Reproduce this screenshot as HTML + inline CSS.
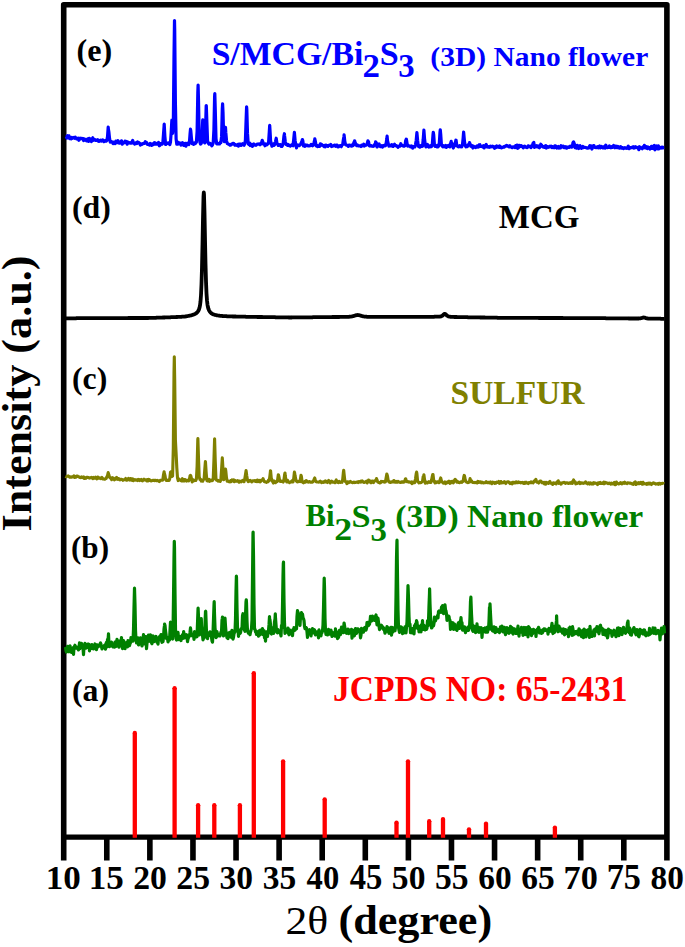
<!DOCTYPE html>
<html><head><meta charset="utf-8"><title>XRD</title>
<style>html,body{margin:0;padding:0;background:#fff;width:685px;height:947px;overflow:hidden}</style>
</head><body>
<svg width="685" height="947" viewBox="0 0 685 947" style="display:block;font-family:'Liberation Serif',serif"><rect width="685" height="947" fill="#fff"/>
<path d="M63.7,860.4 V4.8 H666.9 V860.4" fill="none" stroke="#000" stroke-width="5.6" stroke-linejoin="round"/>
<path d="M63.7,837.1 H666.9" fill="none" stroke="#000" stroke-width="5.3"/>
<path d="M106.79,837 V860.4 M149.87,837 V860.4 M192.96,837 V860.4 M236.04,837 V860.4 M279.12,837 V860.4 M322.21,837 V860.4 M365.30,837 V860.4 M408.38,837 V860.4 M451.47,837 V860.4 M494.55,837 V860.4 M537.64,837 V860.4 M580.72,837 V860.4 M623.81,837 V860.4 " fill="none" stroke="#000" stroke-width="5.6"/>
<polyline points="65.5,647.0 66.0,650.7 66.5,652.1 67.0,648.4 67.5,646.3 68.0,649.2 68.5,650.4 69.0,651.8 69.5,646.2 70.0,645.9 70.5,650.6 71.0,649.9 71.5,652.4 72.0,651.0 72.5,648.2 73.0,647.7 73.5,654.5 74.0,647.5 74.5,646.2 75.0,645.3 75.5,648.1 76.0,648.1 76.5,646.9 77.0,647.4 77.5,648.1 78.0,649.1 78.5,649.9 79.0,647.7 79.5,642.8 80.0,648.7 80.5,643.5 81.0,646.5 81.5,643.3 82.0,646.8 82.5,644.9 83.0,647.3 83.5,654.7 84.0,646.6 84.5,648.7 85.0,643.4 85.5,645.9 86.0,648.1 86.5,646.3 87.0,647.4 87.5,646.7 88.0,644.0 88.5,647.7 89.0,644.4 89.5,650.8 90.0,645.0 90.5,647.8 91.0,646.2 91.5,648.4 92.0,644.6 92.5,648.4 93.0,645.7 93.5,649.0 94.0,647.4 94.5,646.2 95.0,644.0 95.5,647.7 96.0,646.9 96.5,649.7 97.0,644.8 97.5,647.0 98.0,646.9 98.5,646.3 99.0,646.1 99.5,646.0 100.0,644.0 100.5,643.0 101.0,644.4 101.5,646.7 102.0,648.9 102.5,647.6 103.0,647.7 103.5,647.0 104.0,646.7 104.5,645.4 105.0,646.8 105.5,649.1 106.0,643.8 106.5,642.3 107.0,646.9 107.5,639.6 108.0,638.7 108.2,638.1 108.5,633.9 109.0,645.4 109.5,646.6 110.0,644.2 110.5,646.0 111.0,644.5 111.5,642.1 112.0,643.9 112.5,645.0 113.0,646.8 113.5,645.7 114.0,644.1 114.5,647.2 115.0,642.1 115.5,645.7 116.0,646.5 116.5,643.0 117.0,639.4 117.5,641.5 118.0,644.2 118.5,644.8 119.0,647.2 119.5,641.0 120.0,643.4 120.5,644.9 121.0,642.9 121.5,637.5 122.0,645.1 122.5,648.6 123.0,645.4 123.5,640.7 124.0,641.9 124.5,643.4 125.0,648.7 125.5,644.2 126.0,642.9 126.5,646.3 127.0,642.3 127.5,646.9 128.0,640.7 128.5,641.2 129.0,644.0 129.5,645.6 130.0,643.6 130.5,642.7 131.0,637.5 131.5,640.0 132.0,640.1 132.5,640.0 133.0,641.0 133.5,629.5 134.0,607.8 134.5,588.2 135.0,604.9 135.5,630.3 136.0,640.3 136.5,642.9 137.0,639.8 137.5,640.5 138.0,637.8 138.5,644.9 139.0,644.5 139.5,640.5 140.0,639.8 140.5,637.9 141.0,641.2 141.5,641.3 142.0,646.0 142.5,641.3 143.0,638.8 143.5,634.7 144.0,643.9 144.5,641.0 145.0,636.6 145.5,640.8 146.0,636.5 146.5,648.7 147.0,643.0 147.5,641.6 148.0,639.7 148.5,635.0 149.0,639.8 149.5,636.3 150.0,641.4 150.5,634.8 151.0,637.7 151.5,642.7 152.0,643.7 152.5,636.9 153.0,636.0 153.5,641.7 154.0,641.6 154.5,637.1 155.0,637.8 155.5,637.7 156.0,636.5 156.5,637.7 157.0,642.3 157.5,640.9 158.0,644.1 158.5,638.9 159.0,638.7 159.5,636.6 160.0,638.6 160.5,635.8 161.0,634.6 161.5,640.5 162.0,642.3 162.5,640.7 163.0,641.6 163.5,637.3 164.0,629.3 164.5,625.4 164.6,624.1 165.0,625.5 165.5,630.8 166.0,634.3 166.5,638.5 167.0,638.9 167.5,637.4 168.0,641.9 168.5,638.8 169.0,639.6 169.5,640.0 170.0,630.8 170.5,622.1 170.7,627.8 171.0,626.0 171.5,636.7 172.0,637.6 172.5,639.1 173.0,632.5 173.5,598.6 174.0,557.8 174.3,541.4 174.5,547.3 175.0,593.5 175.5,629.3 176.0,638.4 176.5,640.0 177.0,633.8 177.5,636.5 178.0,632.3 178.5,637.8 179.0,639.5 179.5,636.3 180.0,638.7 180.5,638.6 181.0,640.5 181.5,636.0 182.0,635.7 182.5,634.8 183.0,638.4 183.5,634.7 183.6,631.7 184.0,633.6 184.5,636.0 185.0,637.8 185.5,637.2 186.0,637.0 186.5,634.7 187.0,636.2 187.5,641.6 188.0,638.9 188.5,637.7 189.0,636.5 189.5,635.4 190.0,632.5 190.5,627.9 191.0,632.1 191.5,635.7 192.0,635.0 192.5,635.4 193.0,634.9 193.5,634.7 194.0,639.4 194.5,631.5 195.0,636.5 195.5,635.6 196.0,635.5 196.5,636.9 197.0,636.8 197.5,623.5 198.0,609.7 198.1,608.0 198.5,616.6 199.0,633.0 199.5,634.9 200.0,633.1 200.5,629.3 201.0,621.8 201.3,618.7 201.5,625.8 202.0,631.8 202.5,635.0 203.0,639.9 203.5,634.8 204.0,638.1 204.5,636.7 205.0,623.8 205.5,611.5 205.7,611.3 206.0,619.4 206.5,632.7 207.0,632.3 207.5,638.7 208.0,635.3 208.5,635.3 209.0,634.9 209.5,635.4 210.0,631.8 210.5,633.7 211.0,633.1 211.5,637.2 212.0,640.9 212.5,642.2 213.0,632.8 213.5,619.3 214.0,605.5 214.2,601.7 214.5,614.0 215.0,627.8 215.5,632.5 216.0,637.7 216.5,636.9 217.0,631.7 217.5,634.4 218.0,635.1 218.5,635.6 219.0,635.9 219.5,634.7 220.0,635.9 220.5,633.9 221.0,632.0 221.5,632.3 222.0,620.2 222.2,619.1 222.5,617.0 223.0,629.7 223.5,636.0 224.0,629.5 224.5,627.9 225.0,618.1 225.5,626.2 226.0,632.3 226.5,635.2 227.0,637.8 227.5,634.0 228.0,638.7 228.5,633.1 229.0,632.7 229.5,636.6 230.0,632.3 230.5,633.9 231.0,637.0 231.5,637.6 232.0,630.4 232.5,635.8 233.0,639.1 233.5,637.3 234.0,633.7 234.5,632.6 235.0,631.8 235.5,619.0 236.0,591.5 236.4,576.1 236.5,577.3 237.0,608.3 237.5,627.4 238.0,629.7 238.5,636.3 239.0,631.3 239.5,632.8 240.0,633.5 240.5,632.6 241.0,629.8 241.5,628.4 242.0,628.6 242.5,615.6 243.0,613.7 243.5,619.6 244.0,624.9 244.5,630.2 245.0,631.3 245.5,616.0 246.0,602.0 246.3,599.8 246.5,602.9 247.0,621.0 247.5,630.8 248.0,632.2 248.5,633.2 249.0,632.7 249.5,633.7 250.0,634.6 250.5,632.0 251.0,630.5 251.5,628.3 252.0,619.8 252.5,578.4 253.0,534.1 253.1,532.1 253.5,555.7 254.0,604.1 254.5,628.9 255.0,629.3 255.5,632.0 256.0,630.9 256.5,634.5 257.0,631.5 257.5,632.6 258.0,633.8 258.5,636.1 259.0,631.0 259.5,630.6 260.0,634.8 260.5,630.2 261.0,633.9 261.5,631.5 262.0,632.6 262.5,628.5 263.0,634.6 263.5,631.6 264.0,630.7 264.5,637.8 265.0,634.5 265.5,641.2 266.0,633.8 266.5,631.9 267.0,633.0 267.5,636.5 268.0,631.9 268.5,630.5 269.0,624.9 269.5,616.5 269.6,618.8 270.0,619.9 270.5,624.4 271.0,633.4 271.5,634.0 272.0,632.7 272.5,630.4 273.0,627.7 273.5,633.4 274.0,630.4 274.5,621.7 275.0,619.0 275.3,613.8 275.5,618.2 276.0,624.7 276.5,630.8 277.0,632.5 277.5,632.8 278.0,629.7 278.5,631.6 279.0,631.2 279.5,631.9 280.0,633.0 280.5,633.7 281.0,636.0 281.5,625.3 282.0,627.8 282.5,606.2 283.0,576.7 283.3,563.7 283.5,562.1 284.0,600.9 284.5,623.2 285.0,633.4 285.5,629.4 286.0,631.9 286.5,632.0 287.0,632.1 287.5,631.0 288.0,628.0 288.5,633.5 289.0,634.8 289.5,632.3 290.0,630.0 290.5,632.9 291.0,633.8 291.5,632.0 292.0,632.3 292.5,635.7 293.0,629.6 293.5,630.9 294.0,627.7 294.5,630.5 295.0,630.2 295.5,629.1 296.0,627.8 296.5,628.9 297.0,616.3 297.5,610.6 297.6,615.8 298.0,612.1 298.5,614.0 299.0,623.4 299.5,620.8 300.0,625.5 300.5,616.6 301.0,616.3 301.5,612.6 302.0,616.2 302.5,614.0 303.0,617.7 303.5,618.8 304.0,620.5 304.5,626.5 305.0,628.6 305.5,628.3 306.0,627.4 306.5,628.0 307.0,631.9 307.5,637.5 308.0,630.9 308.5,630.3 309.0,630.6 309.5,629.7 310.0,630.1 310.5,631.9 311.0,635.9 311.5,632.5 312.0,631.2 312.5,628.6 313.0,633.0 313.5,632.4 314.0,629.6 314.5,629.9 315.0,632.4 315.5,635.0 316.0,634.1 316.5,633.0 317.0,631.8 317.5,633.3 318.0,632.5 318.5,637.8 319.0,629.8 319.5,631.7 320.0,635.6 320.5,631.9 321.0,635.9 321.5,632.3 322.0,632.6 322.5,631.0 323.0,625.1 323.5,608.3 324.0,586.1 324.2,578.0 324.5,587.1 325.0,618.2 325.5,631.1 326.0,634.5 326.5,631.7 327.0,631.9 327.5,634.9 328.0,631.8 328.5,629.4 329.0,632.1 329.5,631.4 330.0,634.2 330.5,631.0 331.0,630.2 331.5,631.9 332.0,636.5 332.5,632.6 333.0,633.1 333.5,632.8 334.0,633.5 334.5,635.0 335.0,636.1 335.5,628.8 336.0,636.1 336.5,632.8 337.0,632.0 337.5,638.6 338.0,632.4 338.5,637.5 339.0,635.1 339.5,630.3 340.0,634.0 340.5,634.6 341.0,632.5 341.5,627.1 342.0,631.9 342.5,632.1 343.0,629.1 343.5,632.7 344.0,623.6 344.1,623.1 344.5,625.6 345.0,628.8 345.5,630.4 346.0,632.7 346.5,633.3 347.0,631.3 347.5,632.3 348.0,629.1 348.5,633.7 349.0,630.6 349.5,632.9 350.0,630.2 350.5,631.1 351.0,632.8 351.5,629.4 352.0,638.2 352.5,632.1 353.0,632.0 353.5,630.4 354.0,636.0 354.5,635.4 355.0,632.8 355.5,628.7 356.0,630.8 356.5,633.4 357.0,630.6 357.5,628.9 358.0,628.9 358.5,629.8 359.0,631.6 359.5,629.9 360.0,631.3 360.5,637.8 361.0,635.2 361.5,628.3 362.0,631.3 362.5,630.4 363.0,629.6 363.5,632.1 364.0,628.4 364.5,627.9 365.0,627.3 365.5,627.4 366.0,630.2 366.5,628.3 367.0,622.6 367.5,624.0 368.0,622.4 368.5,625.6 369.0,623.4 369.5,624.3 370.0,621.3 370.5,616.3 371.0,621.3 371.5,620.3 372.0,620.6 372.5,616.0 373.0,619.2 373.1,617.3 373.5,617.4 374.0,620.0 374.5,620.3 375.0,617.7 375.5,616.2 376.0,615.0 376.5,620.2 377.0,624.9 377.5,622.8 378.0,618.2 378.5,622.2 379.0,625.9 379.5,629.6 380.0,629.0 380.5,627.6 381.0,627.7 381.5,625.2 382.0,627.1 382.5,627.7 383.0,627.0 383.5,629.3 384.0,628.4 384.5,630.4 385.0,633.2 385.5,631.7 386.0,631.0 386.5,629.5 387.0,626.5 387.5,630.0 388.0,631.6 388.5,627.9 389.0,633.3 389.5,629.5 390.0,631.2 390.5,629.5 391.0,627.3 391.5,635.2 392.0,627.4 392.5,632.4 393.0,628.8 393.5,630.7 394.0,627.9 394.5,628.6 395.0,630.8 395.5,627.2 396.0,597.4 396.5,558.2 396.9,542.8 397.0,540.2 397.5,576.7 398.0,609.6 398.5,627.5 399.0,630.1 399.5,632.4 400.0,630.5 400.5,626.9 401.0,631.4 401.5,627.2 402.0,631.7 402.5,633.6 403.0,631.4 403.5,628.6 404.0,632.8 404.5,630.3 405.0,626.8 405.5,628.9 406.0,632.9 406.5,627.4 407.0,621.8 407.5,604.0 408.0,585.5 408.1,587.8 408.5,597.9 409.0,616.4 409.5,626.0 410.0,624.1 410.5,632.6 411.0,631.5 411.5,632.2 412.0,632.9 412.5,628.7 413.0,628.4 413.5,630.6 414.0,633.8 414.5,625.5 415.0,628.1 415.5,624.1 416.0,623.3 416.3,624.5 416.5,620.7 417.0,622.0 417.5,628.3 418.0,628.7 418.5,625.9 419.0,631.8 419.5,628.4 420.0,631.2 420.5,626.4 421.0,631.9 421.5,624.8 422.0,628.8 422.5,620.7 423.0,629.5 423.5,627.1 424.0,625.2 424.5,628.6 425.0,629.9 425.5,626.6 426.0,627.7 426.5,629.4 427.0,628.1 427.5,620.8 428.0,625.7 428.5,621.5 429.0,605.9 429.5,593.5 429.6,588.8 430.0,603.7 430.5,616.2 431.0,624.1 431.5,628.0 432.0,627.5 432.5,624.9 433.0,622.6 433.5,625.8 434.0,623.5 434.5,617.1 435.0,618.0 435.5,620.8 436.0,618.9 436.5,618.2 437.0,617.9 437.5,615.6 438.0,617.9 438.5,611.5 439.0,610.9 439.5,611.7 440.0,611.8 440.5,611.2 441.0,612.3 441.5,607.1 442.0,610.8 442.3,609.1 442.5,605.5 443.0,607.9 443.5,613.6 444.0,611.0 444.5,608.7 445.0,604.9 445.5,609.9 446.0,611.0 446.5,614.0 447.0,620.5 447.5,617.8 448.0,617.9 448.5,616.1 449.0,616.5 449.5,619.9 450.0,620.3 450.5,629.5 451.0,622.2 451.5,622.4 452.0,627.3 452.5,625.5 453.0,622.9 453.5,629.4 454.0,626.0 454.5,624.0 455.0,628.3 455.5,629.0 456.0,627.2 456.5,629.9 457.0,630.4 457.5,626.5 458.0,623.7 458.5,622.8 459.0,627.5 459.5,628.3 460.0,623.2 460.5,620.3 460.7,621.0 461.0,617.6 461.5,624.5 462.0,622.6 462.5,630.1 463.0,630.1 463.5,629.1 464.0,628.4 464.5,626.8 465.0,629.9 465.5,632.6 466.0,628.7 466.5,630.9 467.0,628.0 467.5,630.2 468.0,627.1 468.5,630.4 469.0,628.6 469.5,627.8 470.0,617.4 470.5,601.4 470.9,597.2 471.0,600.9 471.5,614.1 472.0,622.5 472.5,630.3 473.0,631.3 473.5,630.6 474.0,626.1 474.5,630.6 475.0,627.5 475.5,632.7 476.0,631.8 476.5,631.4 477.0,623.9 477.5,631.5 478.0,631.7 478.5,627.0 479.0,632.4 479.5,630.2 480.0,629.6 480.5,628.4 481.0,627.6 481.5,629.0 482.0,637.5 482.5,630.6 483.0,630.6 483.5,628.6 484.0,628.6 484.5,628.8 485.0,628.0 485.5,632.2 486.0,629.5 486.5,632.2 487.0,627.3 487.5,632.2 488.0,629.7 488.5,629.6 489.0,621.1 489.5,607.4 489.9,607.4 490.0,603.8 490.5,614.1 491.0,622.8 491.5,629.6 492.0,629.0 492.5,630.8 493.0,631.0 493.5,628.6 494.0,626.9 494.5,631.3 495.0,632.5 495.5,632.0 496.0,627.6 496.5,631.8 497.0,631.3 497.5,631.0 498.0,631.4 498.5,629.6 499.0,630.9 499.5,632.6 500.0,629.2 500.5,626.9 501.0,630.2 501.5,630.9 502.0,626.0 502.5,628.8 503.0,631.8 503.5,630.1 504.0,630.7 504.5,627.4 505.0,632.6 505.5,634.7 506.0,630.0 506.5,628.7 507.0,627.7 507.5,632.6 508.0,630.8 508.5,628.6 509.0,633.4 509.5,632.4 510.0,632.0 510.5,626.3 511.0,630.3 511.5,632.0 512.0,627.6 512.5,632.8 513.0,634.0 513.5,633.0 514.0,628.8 514.5,628.9 515.0,632.8 515.5,633.0 516.0,633.5 516.5,633.5 517.0,630.4 517.5,629.6 518.0,626.2 518.5,632.5 519.0,636.1 519.5,629.5 520.0,629.5 520.5,632.2 521.0,631.5 521.5,627.4 522.0,628.9 522.5,628.0 523.0,635.4 523.5,628.1 524.0,627.5 524.3,628.1 524.5,629.0 525.0,632.7 525.5,634.5 526.0,627.7 526.5,629.9 527.0,629.0 527.5,630.0 528.0,637.0 528.5,626.7 529.0,632.1 529.5,627.8 530.0,634.0 530.5,633.9 531.0,629.5 531.5,635.7 532.0,631.0 532.5,633.9 533.0,631.5 533.5,629.4 534.0,629.9 534.5,630.5 535.0,632.3 535.5,631.1 536.0,636.5 536.5,630.4 537.0,629.7 537.5,629.1 538.0,629.0 538.5,627.4 539.0,628.5 539.5,633.0 540.0,631.0 540.5,630.5 541.0,631.7 541.5,633.4 542.0,632.4 542.5,632.7 543.0,629.6 543.5,630.3 544.0,629.0 544.5,630.7 545.0,629.0 545.5,630.0 546.0,630.5 546.5,630.4 547.0,630.3 547.5,629.8 548.0,634.1 548.5,630.1 549.0,628.5 549.5,631.4 550.0,628.4 550.5,628.4 551.0,631.2 551.5,627.0 552.0,623.3 552.5,631.7 553.0,633.5 553.5,627.0 554.0,628.9 554.5,632.4 555.0,626.2 555.5,628.7 556.0,625.0 556.5,620.4 556.6,615.8 557.0,627.1 557.5,630.0 558.0,631.7 558.5,630.3 559.0,626.0 559.5,630.8 560.0,627.9 560.5,631.2 561.0,629.1 561.5,630.4 562.0,630.7 562.5,633.1 563.0,633.1 563.5,628.8 564.0,631.2 564.5,634.8 565.0,632.5 565.5,629.5 566.0,631.0 566.5,630.5 567.0,633.6 567.5,631.4 568.0,632.2 568.5,636.7 569.0,628.0 569.5,628.9 570.0,627.2 570.5,627.6 571.0,633.5 571.5,632.1 572.0,635.3 572.5,626.7 573.0,629.3 573.5,634.9 574.0,633.9 574.5,633.6 575.0,633.6 575.5,631.6 576.0,631.5 576.5,631.6 577.0,633.5 577.5,631.1 578.0,632.3 578.5,635.0 579.0,628.9 579.5,629.8 580.0,632.9 580.5,631.0 581.0,631.2 581.5,636.6 582.0,632.6 582.5,630.6 583.0,634.3 583.5,637.7 584.0,629.0 584.5,630.1 585.0,632.0 585.5,630.2 586.0,636.9 586.5,633.0 587.0,630.8 587.5,632.9 588.0,629.8 588.5,630.3 589.0,632.0 589.5,637.5 590.0,626.4 590.5,632.8 591.0,635.0 591.5,633.6 592.0,636.4 592.5,632.9 593.0,632.2 593.5,631.5 594.0,629.8 594.5,635.8 595.0,629.0 595.5,631.6 596.0,630.6 596.5,630.0 597.0,626.6 597.5,631.0 598.0,632.2 598.5,632.2 599.0,633.8 599.5,630.4 600.0,625.8 600.5,625.2 601.0,629.0 601.5,628.6 602.0,628.1 602.5,629.5 603.0,634.5 603.5,634.4 604.0,629.8 604.5,632.2 605.0,634.0 605.5,635.2 606.0,630.4 606.5,631.4 607.0,635.4 607.5,637.8 608.0,635.7 608.5,629.2 609.0,633.1 609.5,631.3 610.0,631.8 610.5,630.4 611.0,630.8 611.5,632.0 612.0,636.3 612.5,633.7 613.0,633.0 613.5,632.0 614.0,630.2 614.5,631.4 615.0,635.0 615.5,634.0 616.0,636.7 616.5,632.6 617.0,631.9 617.5,628.1 618.0,632.9 618.5,627.8 619.0,635.6 619.5,630.5 620.0,632.0 620.5,628.7 621.0,630.8 621.5,629.7 622.0,634.7 622.5,632.6 623.0,629.1 623.5,627.3 624.0,631.8 624.5,630.8 625.0,629.3 625.5,633.3 626.0,631.4 626.5,631.6 627.0,627.2 627.5,622.8 627.7,622.4 628.0,621.0 628.5,631.0 629.0,632.5 629.5,627.8 630.0,632.2 630.5,634.7 631.0,632.5 631.5,635.1 632.0,631.3 632.5,632.0 633.0,628.9 633.5,629.8 634.0,627.6 634.5,629.8 635.0,632.6 635.5,633.2 636.0,634.8 636.5,632.3 637.0,629.6 637.5,633.0 638.0,631.6 638.5,636.3 639.0,636.7 639.5,634.3 640.0,629.3 640.5,630.7 641.0,632.4 641.5,630.3 642.0,633.2 642.5,633.6 643.0,634.0 643.5,632.5 644.0,629.9 644.5,630.0 645.0,631.7 645.5,635.2 646.0,635.8 646.5,634.3 647.0,632.9 647.5,633.6 648.0,634.0 648.5,635.1 649.0,634.0 649.5,628.3 650.0,634.3 650.5,632.9 651.0,630.9 651.5,633.3 652.0,632.7 652.5,631.9 653.0,627.9 653.5,632.3 654.0,633.3 654.5,631.9 655.0,628.2 655.5,633.1 656.0,633.7 656.5,632.4 657.0,633.0 657.5,631.1 658.0,630.4 658.5,633.2 659.0,631.1 659.5,632.4 660.0,639.8 660.5,633.7 661.0,632.3 661.5,628.1 662.0,632.2 662.5,633.8 663.0,630.3 663.5,631.4 664.0,626.6 664.5,633.3" fill="none" stroke="#008000" stroke-width="3.2" stroke-linejoin="round"/>
<polyline points="65.5,476.2 66.2,476.7 66.9,476.3 67.6,476.3 68.3,475.9 69.0,476.4 69.7,477.2 70.4,476.9 71.1,477.3 71.8,476.9 72.5,477.0 73.2,476.9 73.9,475.8 74.6,477.4 75.3,477.2 76.0,477.3 76.7,476.0 77.4,476.0 78.1,476.6 78.8,476.8 79.5,477.4 80.2,477.2 80.9,477.6 81.6,476.9 82.3,477.5 83.0,477.6 83.7,477.0 84.4,478.5 85.1,477.8 85.8,478.3 86.5,477.2 87.2,477.2 87.9,477.5 88.6,477.6 89.3,478.1 90.0,477.9 90.7,477.6 91.4,477.3 92.1,477.6 92.8,478.7 93.5,477.5 94.2,478.1 94.9,478.3 95.6,477.2 96.3,478.1 97.0,478.9 97.7,477.0 98.4,478.0 99.1,478.2 99.8,477.8 100.5,478.6 101.2,478.3 101.9,477.5 102.6,478.9 103.3,478.8 104.0,479.0 104.7,479.3 105.4,478.7 106.1,478.5 106.8,477.0 107.5,475.6 108.2,472.6 108.9,475.1 109.6,477.2 110.3,478.1 111.0,478.4 111.7,479.6 112.4,477.6 113.1,478.0 113.8,479.1 114.5,479.8 115.2,479.3 115.9,477.9 116.6,477.5 117.3,479.3 118.0,478.7 118.7,478.5 119.4,479.8 120.1,479.9 120.8,479.3 121.5,479.4 122.2,479.5 122.9,480.3 123.6,479.7 124.3,479.7 125.0,479.7 125.7,478.5 126.4,480.2 127.1,480.1 127.8,479.8 128.5,478.3 129.2,479.2 129.9,480.1 130.6,478.5 131.3,479.5 132.0,480.3 132.7,478.9 133.4,480.7 134.1,480.0 134.8,479.6 135.5,480.0 136.2,480.2 136.9,479.9 137.6,480.5 138.3,479.4 139.0,479.6 139.7,480.5 140.4,479.9 141.1,479.4 141.8,480.5 142.5,480.8 143.2,479.7 143.9,479.2 144.6,479.9 145.3,480.0 146.0,479.9 146.7,480.9 147.4,479.5 148.1,480.9 148.8,479.4 149.5,479.7 150.2,480.6 150.9,480.9 151.6,480.7 152.3,480.5 153.0,480.4 153.7,480.4 154.4,480.6 155.1,480.2 155.8,480.5 156.5,480.7 157.2,480.4 157.9,480.8 158.6,480.7 159.3,481.6 160.0,480.6 160.7,480.2 161.4,480.2 162.1,480.3 162.8,480.0 163.5,474.8 164.1,471.7 164.2,472.7 164.9,475.1 165.6,479.2 166.3,480.4 167.0,480.5 167.7,480.4 168.4,479.9 169.1,480.4 169.8,478.4 170.5,472.2 170.9,472.0 171.2,471.7 171.9,476.5 172.6,476.0 173.3,448.0 174.0,373.5 174.3,356.9 174.7,379.3 175.4,439.8 176.0,451.3 176.1,453.2 176.8,467.6 177.5,477.8 178.2,480.6 178.9,479.0 179.6,479.9 180.3,480.0 181.0,480.7 181.7,481.0 182.4,478.7 183.1,481.0 183.8,479.5 184.5,480.8 185.2,479.5 185.9,480.5 186.6,481.1 187.3,480.3 188.0,480.5 188.7,480.8 189.4,479.3 190.1,475.6 190.5,475.4 190.8,475.8 191.5,478.7 192.2,481.9 192.9,479.7 193.6,480.9 194.3,480.2 195.0,480.3 195.7,480.5 196.4,479.0 197.1,466.3 197.8,439.3 197.9,438.6 198.5,458.2 199.2,476.7 199.9,479.4 200.6,479.3 201.3,481.1 202.0,480.8 202.7,481.2 203.4,479.7 204.1,479.0 204.8,469.0 205.4,461.5 205.5,462.3 206.2,473.1 206.9,480.7 207.6,481.0 208.3,480.4 209.0,479.3 209.7,481.4 210.4,480.5 211.1,480.1 211.8,480.7 212.5,480.5 213.2,479.3 213.9,460.9 214.6,438.7 215.3,462.4 216.0,479.3 216.7,480.2 217.4,480.1 218.1,481.2 218.8,480.7 219.5,480.7 220.2,481.4 220.9,479.4 221.6,469.2 222.3,457.8 223.0,469.4 223.7,479.8 224.4,478.4 225.1,471.0 225.5,469.0 225.8,470.9 226.5,477.8 227.2,481.3 227.9,480.8 228.6,481.5 229.3,481.8 230.0,481.9 230.7,480.6 231.4,481.5 232.1,479.9 232.8,480.4 233.5,479.8 234.2,481.7 234.9,480.3 235.6,481.1 236.3,481.0 237.0,481.1 237.7,480.7 238.4,481.3 239.1,482.2 239.8,481.2 240.5,481.5 241.2,481.8 241.9,481.0 242.6,480.4 243.3,480.8 244.0,481.7 244.7,479.3 245.4,475.1 246.1,470.6 246.8,476.0 247.5,480.3 248.2,481.6 248.9,481.3 249.6,480.6 250.3,480.4 251.0,480.9 251.7,481.9 252.4,481.0 253.1,480.8 253.8,480.9 254.5,480.5 255.2,481.3 255.9,480.7 256.6,481.6 257.3,480.0 258.0,481.6 258.7,481.1 259.4,480.3 260.1,481.9 260.8,481.3 261.5,480.0 262.2,480.1 262.9,479.3 263.1,478.7 263.6,480.2 264.3,481.6 265.0,481.9 265.7,481.7 266.4,482.3 267.1,481.9 267.8,481.8 268.5,480.1 269.2,480.9 269.9,475.9 270.5,470.8 270.6,470.9 271.3,478.3 272.0,479.9 272.7,481.8 273.4,483.0 274.1,481.0 274.8,482.0 275.5,482.7 276.2,481.5 276.9,481.7 277.6,479.9 278.3,474.8 278.5,474.9 279.0,477.1 279.7,481.1 280.4,481.5 281.1,481.5 281.8,481.0 282.5,481.4 283.2,482.0 283.9,480.1 284.6,474.6 285.0,473.0 285.3,476.1 286.0,480.2 286.7,481.8 287.4,480.1 288.1,482.0 288.8,482.0 289.5,482.7 290.2,482.0 290.9,481.7 291.6,482.0 292.3,480.5 293.0,481.9 293.7,478.6 294.4,472.1 294.6,472.8 295.1,475.9 295.8,479.4 296.5,481.2 297.2,481.9 297.9,481.8 298.6,481.5 299.3,481.0 300.0,481.5 300.7,477.3 301.0,475.3 301.4,476.4 302.1,481.7 302.8,482.3 303.5,482.9 304.2,482.3 304.9,481.3 305.6,482.0 306.3,480.6 307.0,481.4 307.7,481.8 308.4,482.2 309.1,481.5 309.8,481.8 310.5,482.2 311.2,482.1 311.9,482.3 312.6,482.0 313.3,481.2 314.0,479.8 314.5,478.3 314.7,478.0 315.4,480.3 316.1,481.8 316.8,481.9 317.5,482.0 318.2,482.0 318.9,482.1 319.6,481.9 320.3,481.2 321.0,482.2 321.7,482.6 322.4,482.3 323.1,481.9 323.8,482.3 324.5,481.4 325.2,480.9 325.9,482.0 326.6,481.4 327.3,482.5 328.0,481.4 328.7,480.4 329.4,481.4 330.1,483.0 330.8,481.8 331.5,481.2 332.2,481.6 332.9,482.3 333.6,482.3 334.3,482.1 335.0,482.7 335.7,481.1 336.3,479.8 336.4,480.2 337.1,482.1 337.8,482.5 338.5,482.6 339.2,481.4 339.9,481.9 340.6,482.4 341.3,481.8 342.0,482.3 342.7,479.3 343.4,472.2 343.7,470.2 344.1,474.2 344.8,480.4 345.5,481.6 346.2,482.0 346.9,483.6 347.6,481.8 348.3,482.6 349.0,482.6 349.7,482.1 350.4,481.4 351.1,482.2 351.8,482.3 352.5,482.7 353.2,482.5 353.9,482.1 354.6,482.6 355.3,482.4 356.0,482.2 356.7,482.1 357.4,481.9 358.1,482.5 358.8,481.5 359.5,481.7 360.2,482.1 360.9,481.2 361.6,481.8 362.3,480.9 363.0,481.7 363.7,482.4 364.4,482.4 365.1,482.1 365.8,481.9 366.5,481.2 367.2,483.0 367.9,481.3 368.4,481.2 368.6,480.1 369.3,481.5 370.0,480.9 370.7,482.6 371.4,482.7 372.1,481.0 372.8,482.1 373.5,482.5 374.2,481.0 374.9,480.9 375.6,480.5 376.3,479.1 376.5,478.5 377.0,480.1 377.7,481.8 378.4,482.5 379.1,482.5 379.8,483.0 380.5,482.8 381.2,481.3 381.9,481.8 382.6,481.5 383.3,481.5 384.0,482.0 384.7,482.1 385.4,481.9 386.1,478.1 386.8,474.0 387.0,474.4 387.5,476.2 388.2,480.4 388.9,481.9 389.6,481.6 390.3,482.5 391.0,482.3 391.7,482.1 392.4,481.7 393.1,482.0 393.8,480.5 394.5,481.6 395.2,482.2 395.9,481.3 396.6,482.3 397.3,482.3 398.0,481.3 398.7,482.0 399.4,482.0 400.1,482.4 400.8,482.5 401.5,482.1 402.2,481.7 402.9,482.1 403.6,482.1 404.3,482.0 405.0,480.1 405.4,478.9 405.7,478.8 406.4,481.2 407.1,481.7 407.8,481.5 408.5,482.1 409.2,481.9 409.9,482.2 410.6,482.5 411.3,481.9 412.0,483.6 412.7,482.0 413.4,482.8 414.1,482.2 414.8,482.6 415.5,478.7 416.2,473.6 416.6,472.1 416.9,473.6 417.6,480.9 418.3,482.1 419.0,482.9 419.7,482.6 420.4,482.7 421.1,482.5 421.8,482.0 422.5,481.4 423.2,476.5 423.7,475.7 423.9,474.8 424.6,479.9 425.3,483.2 426.0,482.0 426.7,482.2 427.4,482.9 428.1,482.2 428.8,481.7 429.5,482.3 430.2,482.5 430.9,482.5 431.6,480.0 432.3,476.3 432.7,474.5 433.0,474.5 433.7,480.1 434.4,481.7 435.1,483.0 435.8,481.8 436.5,482.6 437.2,481.9 437.9,481.8 438.6,482.6 439.3,482.7 440.0,480.2 440.7,477.9 441.4,480.7 442.1,481.9 442.8,482.4 443.5,483.2 444.2,482.9 444.9,482.0 445.6,483.6 446.3,482.3 447.0,482.8 447.7,481.9 448.4,482.3 449.1,481.2 449.8,483.4 450.5,483.1 451.2,481.6 451.9,481.4 452.6,481.3 453.3,482.9 454.0,481.2 454.7,479.9 455.1,479.3 455.4,479.7 456.1,480.7 456.8,482.2 457.5,481.4 458.2,482.3 458.9,482.5 459.6,482.6 460.3,482.2 461.0,481.8 461.7,482.4 462.4,481.7 463.1,481.3 463.8,477.0 464.2,475.4 464.5,475.9 465.2,479.5 465.9,481.4 466.6,482.1 467.3,482.5 468.0,482.6 468.7,482.3 469.4,481.9 470.1,478.6 470.2,479.0 470.8,481.8 471.5,480.7 472.2,482.0 472.9,482.5 473.6,482.5 474.3,482.6 475.0,482.3 475.7,482.6 476.4,482.5 477.1,482.9 477.8,481.3 478.5,481.9 479.2,482.4 479.9,481.8 480.6,481.8 481.3,482.8 482.0,482.1 482.7,482.8 483.4,482.9 484.1,482.7 484.8,482.8 485.5,482.4 486.2,481.6 486.9,482.5 487.6,482.8 488.3,482.2 489.0,482.4 489.7,482.9 490.4,482.0 491.1,482.9 491.8,483.6 492.5,482.2 493.2,482.6 493.9,482.4 494.6,483.4 495.3,482.7 496.0,483.1 496.7,482.1 497.4,482.5 498.1,482.5 498.8,481.5 499.5,483.4 500.2,483.1 500.9,481.5 501.6,483.0 502.3,482.5 503.0,482.8 503.7,482.8 504.4,481.7 505.1,482.4 505.8,483.5 506.5,482.2 507.2,482.0 507.9,481.8 508.6,481.9 509.3,482.8 510.0,483.6 510.7,482.9 511.4,482.8 512.1,483.9 512.8,482.3 513.5,482.2 514.2,482.9 514.9,483.0 515.6,482.0 516.3,481.9 517.0,482.8 517.7,482.8 518.4,481.9 519.1,482.5 519.8,482.3 520.5,482.9 521.2,482.6 521.9,482.6 522.6,482.4 523.3,483.3 524.0,483.5 524.7,482.5 525.4,483.2 526.1,482.2 526.8,482.7 527.5,483.1 528.2,483.6 528.9,482.5 529.6,482.6 530.3,482.8 531.0,481.8 531.7,482.7 532.4,482.3 533.1,482.9 533.8,481.9 534.5,480.8 535.2,480.3 535.7,479.7 535.9,479.3 536.6,481.9 537.3,482.3 538.0,482.3 538.7,483.0 539.4,481.5 540.1,481.1 540.7,481.0 540.8,481.5 541.5,481.8 542.2,482.8 542.9,482.3 543.6,482.9 544.3,483.8 545.0,482.4 545.7,484.2 546.4,482.4 547.1,482.8 547.8,482.9 548.5,483.4 549.2,482.1 549.9,481.5 550.6,483.2 551.3,483.3 552.0,483.2 552.7,484.4 553.4,482.9 554.1,483.0 554.8,483.4 555.5,483.1 556.2,483.8 556.9,482.1 557.6,482.6 558.3,480.8 559.0,483.3 559.7,482.6 560.4,483.4 561.1,484.2 561.8,482.9 562.5,482.7 563.2,482.6 563.9,482.4 564.6,482.5 565.3,483.3 566.0,482.9 566.7,483.0 567.4,482.8 568.1,483.5 568.8,483.2 569.5,482.8 570.2,483.3 570.9,482.8 571.6,482.2 572.3,483.4 573.0,481.6 573.6,479.9 573.7,481.2 574.4,481.9 575.1,481.8 575.8,483.9 576.5,483.2 577.2,483.5 577.9,483.1 578.6,482.9 579.3,482.1 580.0,483.6 580.7,483.0 581.4,482.8 582.1,483.2 582.8,483.1 583.5,483.4 584.2,482.8 584.9,483.0 585.6,481.8 586.3,482.8 587.0,483.5 587.7,483.9 588.4,482.8 589.1,483.0 589.8,484.0 590.5,482.9 591.2,483.5 591.9,484.1 592.6,483.1 593.3,483.8 594.0,482.7 594.7,483.2 595.4,483.1 596.1,483.2 596.8,483.8 597.5,484.6 598.2,482.7 598.9,482.8 599.6,483.4 600.3,482.5 601.0,483.5 601.7,483.5 602.4,483.0 603.1,483.5 603.8,482.2 604.5,483.6 605.2,482.3 605.9,482.8 606.6,482.9 607.3,483.0 608.0,483.7 608.7,483.3 609.4,483.0 610.1,483.5 610.8,484.2 611.5,483.2 612.2,483.5 612.9,484.0 613.6,483.4 614.3,482.5 615.0,484.7 615.7,484.6 616.4,482.1 617.1,483.2 617.8,483.5 618.5,483.9 619.2,483.7 619.9,483.1 620.6,482.7 621.3,483.4 622.0,483.9 622.7,482.7 623.4,482.7 624.1,483.3 624.8,482.2 625.5,483.2 626.2,483.1 626.9,483.6 627.6,482.9 628.3,482.8 629.0,483.1 629.7,483.3 630.4,483.0 631.1,483.4 631.8,483.8 632.5,484.1 633.2,484.4 633.9,482.9 634.6,483.1 635.3,481.9 636.0,484.5 636.7,483.0 637.4,483.4 638.1,483.7 638.8,482.6 639.5,483.7 640.2,483.4 640.9,482.3 641.6,483.6 642.3,484.2 643.0,482.3 643.7,483.9 644.4,483.6 645.1,483.7 645.8,483.7 646.5,484.3 647.2,483.3 647.9,484.0 648.6,483.2 649.3,483.9 650.0,483.0 650.7,483.4 651.4,484.5 652.1,483.8 652.8,483.4 653.5,482.8 654.2,483.1 654.9,483.6 655.6,484.1 656.3,483.8 657.0,483.9 657.7,483.5 658.4,484.4 659.1,483.3 659.8,483.2 660.5,484.1 661.2,483.6 661.9,483.4 662.6,483.2 663.3,483.4 664.0,484.0" fill="none" stroke="#808000" stroke-width="3.1" stroke-linejoin="round"/>
<polyline points="65.5,318.3 66.0,318.3 66.5,318.3 67.0,318.3 67.5,318.3 68.0,318.3 68.5,318.3 69.0,318.3 69.5,318.3 70.0,318.3 70.5,318.3 71.0,318.3 71.5,318.3 72.0,318.3 72.5,318.3 73.0,318.3 73.5,318.3 74.0,318.3 74.5,318.3 75.0,318.3 75.5,318.3 76.0,318.3 76.5,318.2 77.0,318.2 77.5,318.2 78.0,318.2 78.5,318.2 79.0,318.2 79.5,318.2 80.0,318.2 80.5,318.2 81.0,318.2 81.5,318.2 82.0,318.2 82.5,318.2 83.0,318.2 83.5,318.2 84.0,318.2 84.5,318.2 85.0,318.2 85.5,318.2 86.0,318.2 86.5,318.2 87.0,318.2 87.5,318.2 88.0,318.2 88.5,318.2 89.0,318.2 89.5,318.2 90.0,318.2 90.5,318.2 91.0,318.2 91.5,318.2 92.0,318.2 92.5,318.2 93.0,318.2 93.5,318.2 94.0,318.2 94.5,318.2 95.0,318.2 95.5,318.2 96.0,318.2 96.5,318.2 97.0,318.2 97.5,318.2 98.0,318.2 98.5,318.2 99.0,318.2 99.5,318.2 100.0,318.2 100.5,318.2 101.0,318.2 101.5,318.2 102.0,318.2 102.5,318.2 103.0,318.1 103.5,318.1 104.0,318.1 104.5,318.1 105.0,318.1 105.5,318.1 106.0,318.1 106.5,318.1 107.0,318.1 107.5,318.1 108.0,318.1 108.5,318.1 109.0,318.1 109.5,318.1 110.0,318.1 110.5,318.1 111.0,318.1 111.5,318.1 112.0,318.1 112.5,318.1 113.0,318.1 113.5,318.1 114.0,318.1 114.5,318.1 115.0,318.1 115.5,318.1 116.0,318.1 116.5,318.1 117.0,318.1 117.5,318.1 118.0,318.1 118.5,318.1 119.0,318.1 119.5,318.1 120.0,318.1 120.5,318.1 121.0,318.1 121.5,318.1 122.0,318.1 122.5,318.1 123.0,318.1 123.5,318.1 124.0,318.1 124.5,318.1 125.0,318.1 125.5,318.1 126.0,318.1 126.5,318.1 127.0,318.1 127.5,318.1 128.0,318.0 128.5,318.0 129.0,318.0 129.5,318.0 130.0,318.0 130.5,318.0 131.0,318.0 131.5,318.0 132.0,318.0 132.5,318.0 133.0,318.0 133.5,318.0 134.0,318.0 134.5,318.0 135.0,318.0 135.5,318.0 136.0,318.0 136.5,318.0 137.0,318.0 137.5,318.0 138.0,318.0 138.5,318.0 139.0,318.0 139.5,318.0 140.0,318.0 140.5,318.0 141.0,318.0 141.5,318.0 142.0,318.0 142.5,318.0 143.0,318.0 143.5,318.0 144.0,318.0 144.5,318.0 145.0,318.0 145.5,318.0 146.0,318.0 146.5,318.0 147.0,318.0 147.5,318.0 148.0,318.0 148.5,318.0 149.0,317.9 149.5,317.9 150.0,317.9 150.5,317.9 151.0,317.9 151.5,317.9 152.0,317.9 152.5,317.9 153.0,317.8 153.5,317.8 154.0,317.8 154.5,317.8 155.0,317.8 155.5,317.8 156.0,317.8 156.5,317.7 157.0,317.7 157.5,317.7 158.0,317.7 158.5,317.7 159.0,317.7 159.5,317.6 160.0,317.6 160.5,317.6 161.0,317.6 161.5,317.6 162.0,317.6 162.5,317.5 163.0,317.5 163.5,317.5 164.0,317.5 164.5,317.5 165.0,317.5 165.5,317.4 166.0,317.4 166.5,317.4 167.0,317.4 167.5,317.4 168.0,317.4 168.5,317.3 169.0,317.3 169.5,317.3 170.0,317.3 170.5,317.3 171.0,317.2 171.5,317.2 172.0,317.2 172.5,317.2 173.0,317.2 173.5,317.1 174.0,317.1 174.5,317.1 175.0,317.1 175.5,317.1 176.0,317.0 176.5,317.0 177.0,317.0 177.5,317.0 178.0,316.9 178.5,316.9 179.0,316.9 179.5,316.9 180.0,316.8 180.5,316.8 181.0,316.8 181.5,316.8 182.0,316.7 182.5,316.7 183.0,316.7 183.5,316.6 184.0,316.6 184.5,316.6 185.0,316.5 185.5,316.5 186.0,316.4 186.5,316.3 187.0,316.2 187.5,316.1 188.0,316.0 188.5,315.9 189.0,315.8 189.5,315.7 190.0,315.6 190.5,315.5 191.0,315.4 191.5,315.3 192.0,315.1 192.5,315.0 193.0,314.8 193.5,314.6 194.0,314.4 194.5,314.2 195.0,313.9 195.5,313.7 196.0,313.4 196.5,313.0 197.0,312.6 197.5,312.0 198.0,311.4 198.5,310.5 199.0,309.4 199.5,307.8 200.0,305.4 200.5,301.6 201.0,295.1 201.5,284.2 202.0,267.4 202.5,244.3 203.0,217.7 203.5,196.7 203.8,192.5 204.0,194.4 204.5,212.7 205.0,239.1 205.5,263.3 206.0,281.4 206.5,293.3 207.0,300.5 207.5,304.8 208.0,307.4 208.5,309.1 209.0,310.3 209.5,311.2 210.0,311.9 210.5,312.5 211.0,313.0 211.5,313.4 212.0,313.7 212.5,314.0 213.0,314.2 213.5,314.4 214.0,314.6 214.5,314.8 215.0,314.9 215.5,315.0 216.0,315.1 216.5,315.3 217.0,315.3 217.5,315.4 218.0,315.5 218.5,315.6 219.0,315.7 219.5,315.7 220.0,315.8 220.5,315.8 221.0,315.9 221.5,315.9 222.0,316.0 222.5,316.0 223.0,316.1 223.5,316.1 224.0,316.1 224.5,316.1 225.0,316.2 225.5,316.2 226.0,316.2 226.5,316.2 227.0,316.3 227.5,316.3 228.0,316.3 228.5,316.3 229.0,316.3 229.5,316.4 230.0,316.4 230.5,316.4 231.0,316.4 231.5,316.4 232.0,316.4 232.5,316.5 233.0,316.5 233.5,316.5 234.0,316.5 234.5,316.5 235.0,316.5 235.5,316.5 236.0,316.5 236.5,316.6 237.0,316.6 237.5,316.6 238.0,316.6 238.5,316.6 239.0,316.6 239.5,316.6 240.0,316.6 240.5,316.6 241.0,316.7 241.5,316.7 242.0,316.7 242.5,316.7 243.0,316.7 243.5,316.7 244.0,316.7 244.5,316.7 245.0,316.7 245.5,316.7 246.0,316.8 246.5,316.8 247.0,316.8 247.5,316.8 248.0,316.8 248.5,316.8 249.0,316.8 249.5,316.8 250.0,316.8 250.5,316.8 251.0,316.9 251.5,316.9 252.0,316.9 252.5,316.9 253.0,316.9 253.5,316.9 254.0,316.9 254.5,316.9 255.0,316.9 255.5,316.9 256.0,316.9 256.5,316.9 257.0,317.0 257.5,317.0 258.0,317.0 258.5,317.0 259.0,317.0 259.5,317.0 260.0,317.0 260.5,317.0 261.0,317.0 261.5,317.0 262.0,317.0 262.5,317.0 263.0,317.1 263.5,317.1 264.0,317.1 264.5,317.1 265.0,317.1 265.5,317.1 266.0,317.1 266.5,317.1 267.0,317.1 267.5,317.1 268.0,317.1 268.5,317.1 269.0,317.1 269.5,317.2 270.0,317.2 270.5,317.2 271.0,317.2 271.5,317.2 272.0,317.2 272.5,317.2 273.0,317.2 273.5,317.2 274.0,317.2 274.5,317.2 275.0,317.2 275.5,317.3 276.0,317.3 276.5,317.3 277.0,317.3 277.5,317.3 278.0,317.3 278.5,317.3 279.0,317.3 279.5,317.3 280.0,317.3 280.5,317.3 281.0,317.3 281.5,317.3 282.0,317.4 282.5,317.4 283.0,317.4 283.5,317.4 284.0,317.4 284.5,317.4 285.0,317.4 285.5,317.4 286.0,317.4 286.5,317.4 287.0,317.4 287.5,317.4 288.0,317.4 288.5,317.5 289.0,317.5 289.5,317.5 290.0,317.5 290.5,317.5 291.0,317.5 291.5,317.5 292.0,317.5 292.5,317.4 293.0,317.4 293.5,317.4 294.0,317.4 294.5,317.4 295.0,317.4 295.5,317.4 296.0,317.4 296.5,317.4 297.0,317.4 297.5,317.4 298.0,317.4 298.5,317.4 299.0,317.4 299.5,317.4 300.0,317.4 300.5,317.4 301.0,317.4 301.5,317.4 302.0,317.4 302.5,317.4 303.0,317.3 303.5,317.3 304.0,317.3 304.5,317.3 305.0,317.3 305.5,317.3 306.0,317.3 306.5,317.3 307.0,317.3 307.5,317.3 308.0,317.3 308.5,317.3 309.0,317.3 309.5,317.3 310.0,317.3 310.5,317.3 311.0,317.3 311.5,317.3 312.0,317.3 312.5,317.3 313.0,317.2 313.5,317.2 314.0,317.2 314.5,317.2 315.0,317.2 315.5,317.2 316.0,317.2 316.5,317.2 317.0,317.2 317.5,317.2 318.0,317.2 318.5,317.2 319.0,317.2 319.5,317.2 320.0,317.2 320.5,317.2 321.0,317.2 321.5,317.2 322.0,317.2 322.5,317.2 323.0,317.1 323.5,317.1 324.0,317.1 324.5,317.1 325.0,317.1 325.5,317.1 326.0,317.1 326.5,317.1 327.0,317.1 327.5,317.1 328.0,317.1 328.5,317.1 329.0,317.1 329.5,317.1 330.0,317.1 330.5,317.1 331.0,317.1 331.5,317.1 332.0,317.0 332.5,317.0 333.0,317.0 333.5,317.0 334.0,317.0 334.5,317.0 335.0,317.0 335.5,317.0 336.0,317.0 336.5,317.0 337.0,317.0 337.5,317.0 338.0,317.0 338.5,317.0 339.0,317.0 339.5,317.0 340.0,316.9 340.5,316.9 341.0,316.9 341.5,316.9 342.0,316.9 342.5,316.9 343.0,316.9 343.5,316.9 344.0,316.9 344.5,316.9 345.0,316.9 345.5,316.9 346.0,316.9 346.5,316.9 347.0,316.9 347.5,316.8 348.0,316.8 348.5,316.8 349.0,316.8 349.5,316.7 350.0,316.7 350.5,316.6 351.0,316.6 351.5,316.5 352.0,316.4 352.5,316.3 353.0,316.2 353.5,316.0 354.0,315.9 354.5,315.7 355.0,315.6 355.5,315.4 356.0,315.3 356.5,315.1 357.0,315.1 357.5,315.0 357.7,315.0 358.0,315.0 358.5,315.1 359.0,315.2 359.5,315.3 360.0,315.4 360.5,315.6 361.0,315.8 361.5,315.9 362.0,316.1 362.5,316.2 363.0,316.3 363.5,316.4 364.0,316.5 364.5,316.6 365.0,316.6 365.5,316.7 366.0,316.7 366.5,316.7 367.0,316.8 367.5,316.8 368.0,316.8 368.5,316.8 369.0,316.8 369.5,316.8 370.0,316.8 370.5,316.8 371.0,316.8 371.5,316.9 372.0,316.9 372.5,316.9 373.0,316.9 373.5,316.9 374.0,316.9 374.5,316.9 375.0,316.9 375.5,316.9 376.0,316.9 376.5,316.9 377.0,316.9 377.5,316.9 378.0,316.9 378.5,316.9 379.0,316.9 379.5,316.9 380.0,316.9 380.5,316.9 381.0,316.9 381.5,316.9 382.0,316.9 382.5,316.9 383.0,316.9 383.5,316.9 384.0,316.9 384.5,316.9 385.0,316.9 385.5,316.9 386.0,316.9 386.5,316.9 387.0,316.9 387.5,316.9 388.0,316.9 388.5,316.9 389.0,316.9 389.5,316.9 390.0,316.9 390.5,316.9 391.0,316.9 391.5,316.9 392.0,316.9 392.5,316.9 393.0,316.9 393.5,316.9 394.0,316.9 394.5,316.9 395.0,316.9 395.5,316.9 396.0,316.9 396.5,316.9 397.0,316.9 397.5,316.9 398.0,316.9 398.5,316.9 399.0,316.9 399.5,316.9 400.0,316.9 400.5,316.9 401.0,316.9 401.5,316.9 402.0,316.9 402.5,316.9 403.0,316.9 403.5,316.9 404.0,316.9 404.5,316.9 405.0,316.9 405.5,316.9 406.0,316.9 406.5,316.9 407.0,316.9 407.5,316.9 408.0,316.8 408.5,316.8 409.0,316.8 409.5,316.8 410.0,316.8 410.5,316.8 411.0,316.8 411.5,316.8 412.0,316.8 412.5,316.8 413.0,316.8 413.5,316.8 414.0,316.8 414.5,316.8 415.0,316.8 415.5,316.8 416.0,316.8 416.5,316.8 417.0,316.8 417.5,316.8 418.0,316.8 418.5,316.8 419.0,316.8 419.5,316.8 420.0,316.8 420.5,316.8 421.0,316.8 421.5,316.8 422.0,316.8 422.5,316.8 423.0,316.8 423.5,316.8 424.0,316.8 424.5,316.8 425.0,316.8 425.5,316.8 426.0,316.8 426.5,316.8 427.0,316.8 427.5,316.8 428.0,316.8 428.5,316.8 429.0,316.8 429.5,316.8 430.0,316.8 430.5,316.8 431.0,316.8 431.5,316.8 432.0,316.8 432.5,316.8 433.0,316.8 433.5,316.8 434.0,316.8 434.5,316.7 435.0,316.7 435.5,316.7 436.0,316.7 436.5,316.7 437.0,316.7 437.5,316.7 438.0,316.7 438.5,316.7 439.0,316.6 439.5,316.6 440.0,316.5 440.5,316.5 441.0,316.4 441.5,316.2 442.0,315.9 442.5,315.6 443.0,315.1 443.5,314.6 444.0,314.2 444.5,313.9 444.8,313.8 445.0,313.8 445.5,314.1 446.0,314.6 446.5,315.1 447.0,315.6 447.5,315.9 448.0,316.2 448.5,316.4 449.0,316.6 449.5,316.7 450.0,316.7 450.5,316.8 451.0,316.8 451.5,316.9 452.0,316.9 452.5,316.9 453.0,316.9 453.5,316.9 454.0,317.0 454.5,317.0 455.0,317.0 455.5,317.0 456.0,317.0 456.5,317.0 457.0,317.0 457.5,317.1 458.0,317.1 458.5,317.1 459.0,317.1 459.5,317.1 460.0,317.1 460.5,317.1 461.0,317.1 461.5,317.1 462.0,317.1 462.5,317.2 463.0,317.2 463.5,317.2 464.0,317.2 464.5,317.2 465.0,317.2 465.5,317.2 466.0,317.2 466.5,317.2 467.0,317.2 467.5,317.2 468.0,317.3 468.5,317.3 469.0,317.3 469.5,317.3 470.0,317.3 470.5,317.3 471.0,317.3 471.5,317.3 472.0,317.3 472.5,317.3 473.0,317.3 473.5,317.3 474.0,317.4 474.5,317.4 475.0,317.4 475.5,317.4 476.0,317.4 476.5,317.4 477.0,317.4 477.5,317.4 478.0,317.4 478.5,317.4 479.0,317.4 479.5,317.4 480.0,317.5 480.5,317.5 481.0,317.5 481.5,317.5 482.0,317.5 482.5,317.5 483.0,317.5 483.5,317.5 484.0,317.5 484.5,317.5 485.0,317.5 485.5,317.6 486.0,317.6 486.5,317.6 487.0,317.6 487.5,317.6 488.0,317.6 488.5,317.6 489.0,317.6 489.5,317.6 490.0,317.6 490.5,317.6 491.0,317.6 491.5,317.7 492.0,317.7 492.5,317.7 493.0,317.7 493.5,317.7 494.0,317.7 494.5,317.7 495.0,317.7 495.5,317.7 496.0,317.7 496.5,317.7 497.0,317.7 497.5,317.8 498.0,317.8 498.5,317.8 499.0,317.8 499.5,317.8 500.0,317.8 500.5,317.8 501.0,317.8 501.5,317.8 502.0,317.8 502.5,317.8 503.0,317.8 503.5,317.8 504.0,317.8 504.5,317.8 505.0,317.8 505.5,317.8 506.0,317.8 506.5,317.8 507.0,317.8 507.5,317.8 508.0,317.8 508.5,317.8 509.0,317.8 509.5,317.8 510.0,317.8 510.5,317.8 511.0,317.8 511.5,317.8 512.0,317.8 512.5,317.8 513.0,317.8 513.5,317.9 514.0,317.9 514.5,317.9 515.0,317.9 515.5,317.9 516.0,317.9 516.5,317.9 517.0,317.9 517.5,317.9 518.0,317.9 518.5,317.9 519.0,317.9 519.5,317.9 520.0,317.9 520.5,317.9 521.0,317.9 521.5,317.9 522.0,317.9 522.5,317.9 523.0,317.9 523.5,317.9 524.0,317.9 524.5,317.9 525.0,317.9 525.5,317.9 526.0,317.9 526.5,317.9 527.0,317.9 527.5,317.9 528.0,317.9 528.5,317.9 529.0,317.9 529.5,317.9 530.0,317.9 530.5,317.9 531.0,317.9 531.5,317.9 532.0,317.9 532.5,317.9 533.0,317.9 533.5,317.9 534.0,317.9 534.5,317.9 535.0,317.9 535.5,317.9 536.0,317.9 536.5,317.9 537.0,317.9 537.5,317.9 538.0,317.9 538.5,318.0 539.0,318.0 539.5,318.0 540.0,318.0 540.5,318.0 541.0,318.0 541.5,318.0 542.0,318.0 542.5,318.0 543.0,318.0 543.5,318.0 544.0,318.0 544.5,318.0 545.0,318.0 545.5,318.0 546.0,318.0 546.5,318.0 547.0,318.0 547.5,318.0 548.0,318.0 548.5,318.0 549.0,318.0 549.5,318.0 550.0,318.0 550.5,318.0 551.0,318.0 551.5,318.0 552.0,318.0 552.5,318.0 553.0,318.0 553.5,318.0 554.0,318.0 554.5,318.0 555.0,318.0 555.5,318.0 556.0,318.0 556.5,318.0 557.0,318.0 557.5,318.0 558.0,318.0 558.5,318.0 559.0,318.0 559.5,318.0 560.0,318.0 560.5,318.0 561.0,318.0 561.5,318.0 562.0,318.0 562.5,318.0 563.0,318.0 563.5,318.1 564.0,318.1 564.5,318.1 565.0,318.1 565.5,318.1 566.0,318.1 566.5,318.1 567.0,318.1 567.5,318.1 568.0,318.1 568.5,318.1 569.0,318.1 569.5,318.1 570.0,318.1 570.5,318.1 571.0,318.1 571.5,318.1 572.0,318.1 572.5,318.1 573.0,318.1 573.5,318.1 574.0,318.1 574.5,318.1 575.0,318.1 575.5,318.1 576.0,318.1 576.5,318.1 577.0,318.1 577.5,318.1 578.0,318.1 578.5,318.1 579.0,318.1 579.5,318.1 580.0,318.1 580.5,318.1 581.0,318.1 581.5,318.1 582.0,318.1 582.5,318.1 583.0,318.1 583.5,318.1 584.0,318.1 584.5,318.1 585.0,318.1 585.5,318.1 586.0,318.1 586.5,318.1 587.0,318.1 587.5,318.1 588.0,318.1 588.5,318.2 589.0,318.2 589.5,318.2 590.0,318.2 590.5,318.2 591.0,318.2 591.5,318.2 592.0,318.2 592.5,318.2 593.0,318.2 593.5,318.2 594.0,318.2 594.5,318.2 595.0,318.2 595.5,318.2 596.0,318.2 596.5,318.2 597.0,318.2 597.5,318.2 598.0,318.2 598.5,318.2 599.0,318.2 599.5,318.2 600.0,318.2 600.5,318.2 601.0,318.2 601.5,318.2 602.0,318.2 602.5,318.2 603.0,318.2 603.5,318.2 604.0,318.2 604.5,318.2 605.0,318.2 605.5,318.2 606.0,318.3 606.5,318.3 607.0,318.3 607.5,318.3 608.0,318.3 608.5,318.3 609.0,318.3 609.5,318.3 610.0,318.3 610.5,318.3 611.0,318.3 611.5,318.3 612.0,318.3 612.5,318.3 613.0,318.3 613.5,318.3 614.0,318.3 614.5,318.3 615.0,318.3 615.5,318.3 616.0,318.3 616.5,318.3 617.0,318.4 617.5,318.4 618.0,318.4 618.5,318.4 619.0,318.4 619.5,318.4 620.0,318.4 620.5,318.4 621.0,318.4 621.5,318.4 622.0,318.4 622.5,318.4 623.0,318.4 623.5,318.4 624.0,318.4 624.5,318.4 625.0,318.4 625.5,318.4 626.0,318.4 626.5,318.4 627.0,318.4 627.5,318.4 628.0,318.4 628.5,318.5 629.0,318.5 629.5,318.5 630.0,318.5 630.5,318.5 631.0,318.5 631.5,318.5 632.0,318.5 632.5,318.5 633.0,318.5 633.5,318.5 634.0,318.5 634.5,318.5 635.0,318.5 635.5,318.5 636.0,318.5 636.5,318.5 637.0,318.5 637.5,318.5 638.0,318.5 638.5,318.5 639.0,318.5 639.5,318.4 640.0,318.4 640.5,318.3 641.0,318.2 641.5,318.1 642.0,317.9 642.5,317.8 643.0,317.6 643.5,317.5 643.7,317.5 644.0,317.5 644.5,317.6 645.0,317.8 645.5,318.0 646.0,318.2 646.5,318.3 647.0,318.4 647.5,318.5 648.0,318.5 648.5,318.6 649.0,318.6 649.5,318.6 650.0,318.6 650.5,318.6 651.0,318.6 651.5,318.6 652.0,318.6 652.5,318.7 653.0,318.7 653.5,318.7 654.0,318.7 654.5,318.7 655.0,318.7 655.5,318.7 656.0,318.7 656.5,318.7 657.0,318.7 657.5,318.7 658.0,318.7 658.5,318.7 659.0,318.7 659.5,318.7 660.0,318.7 660.5,318.7 661.0,318.8 661.5,318.8 662.0,318.8 662.5,318.8 663.0,318.8 663.5,318.8 664.0,318.8 664.5,318.8" fill="none" stroke="#000" stroke-width="3.8" stroke-linejoin="round"/>
<polyline points="65.5,136.4 66.2,136.5 66.9,138.0 67.6,135.7 68.3,137.5 69.0,135.8 69.7,138.6 70.4,137.9 71.1,138.9 71.8,137.5 72.5,138.3 73.2,137.8 73.9,137.5 74.6,138.3 75.3,137.2 76.0,138.0 76.7,138.9 77.4,138.4 78.1,138.1 78.8,140.3 79.5,138.6 80.2,138.2 80.9,138.8 81.6,138.3 82.3,138.5 83.0,138.6 83.7,140.6 84.4,139.0 85.1,139.2 85.8,139.7 86.5,140.8 87.2,139.1 87.9,138.8 88.6,141.4 89.3,138.3 90.0,139.2 90.7,140.1 91.4,141.5 92.1,138.9 92.8,137.8 93.5,140.3 94.2,139.5 94.9,139.6 95.6,140.4 96.3,140.2 97.0,140.4 97.7,139.8 98.4,141.3 99.1,141.5 99.8,140.4 100.5,140.1 101.2,141.1 101.9,141.0 102.6,139.9 103.3,140.4 104.0,141.7 104.7,140.8 105.4,140.7 106.1,141.2 106.8,140.6 107.5,136.8 108.2,127.2 108.4,129.4 108.9,132.1 109.6,138.8 110.3,142.1 111.0,141.8 111.7,141.7 112.4,142.5 113.1,143.6 113.8,142.2 114.5,143.1 115.2,143.6 115.9,141.1 116.6,141.6 117.3,142.6 118.0,140.7 118.7,141.9 119.4,143.2 120.1,143.0 120.8,142.7 121.5,140.8 122.2,144.2 122.9,142.8 123.6,143.0 124.3,142.8 125.0,141.1 125.7,141.4 126.4,141.6 127.1,144.2 127.8,142.0 128.5,142.5 129.2,142.5 129.9,143.2 130.6,143.2 131.3,143.1 132.0,141.9 132.7,140.4 133.4,143.1 134.1,143.3 134.8,144.1 135.5,143.0 136.2,142.7 136.9,143.5 137.6,142.0 138.3,142.5 139.0,142.5 139.7,143.6 140.4,145.1 141.1,144.0 141.8,144.4 142.5,143.7 143.2,143.7 143.9,143.2 144.6,143.3 145.3,141.7 146.0,142.7 146.7,142.6 147.4,144.3 148.1,144.2 148.8,144.6 149.5,145.0 150.2,143.5 150.9,144.7 151.6,145.4 152.3,143.9 153.0,144.8 153.7,143.8 154.4,142.7 155.1,144.1 155.8,143.3 156.5,144.1 157.2,143.7 157.9,144.3 158.6,142.4 159.3,145.8 160.0,145.2 160.7,143.8 161.4,143.3 162.1,144.0 162.8,143.3 163.5,134.2 164.1,125.8 164.2,124.2 164.9,136.6 165.6,144.5 166.3,144.1 167.0,142.8 167.7,143.3 168.4,142.8 169.1,143.0 169.8,144.6 170.5,142.0 171.2,132.2 171.8,121.2 171.9,120.1 172.6,133.4 173.3,126.4 174.0,56.6 174.5,20.6 174.7,29.2 175.4,102.7 176.1,138.7 176.8,144.2 177.5,142.1 178.2,144.1 178.9,143.1 179.6,142.9 180.3,143.4 181.0,145.0 181.7,144.0 182.4,142.7 183.1,143.3 183.8,145.4 184.5,145.0 185.2,143.3 185.9,146.2 186.6,143.9 187.3,143.2 188.0,144.0 188.7,144.6 189.4,142.6 190.1,133.3 190.5,129.2 190.8,130.8 191.5,139.1 192.2,143.7 192.9,143.6 193.6,144.3 194.3,143.0 195.0,143.6 195.7,143.1 196.4,142.1 197.1,131.4 197.8,93.4 198.1,85.0 198.5,100.2 199.2,135.6 199.9,142.2 200.6,144.1 201.3,143.4 202.0,136.7 202.7,120.3 202.8,119.8 203.4,130.2 204.1,142.2 204.8,142.9 205.5,130.4 206.2,105.5 206.3,105.5 206.9,122.7 207.6,141.5 208.3,143.1 209.0,144.2 209.7,143.3 210.4,143.5 211.1,144.3 211.8,145.8 212.5,144.8 213.2,142.9 213.9,130.1 214.6,96.7 214.8,93.6 215.3,111.1 216.0,138.6 216.7,143.8 217.4,143.8 218.1,143.9 218.8,143.5 219.5,143.9 220.2,142.3 220.9,142.5 221.6,136.4 222.3,108.5 222.6,103.9 223.0,112.0 223.7,137.8 224.4,141.7 225.1,130.9 225.5,127.4 225.8,132.4 226.5,140.5 227.2,143.5 227.9,143.8 228.6,144.4 229.3,144.4 230.0,145.2 230.7,145.1 231.4,144.1 232.1,144.2 232.8,143.3 233.5,143.3 234.2,143.9 234.9,145.1 235.6,144.6 236.3,145.2 237.0,145.3 237.7,144.4 238.4,146.2 239.1,144.1 239.8,144.0 240.5,144.1 241.2,145.4 241.9,144.4 242.6,143.8 243.3,144.8 244.0,145.3 244.7,144.0 245.4,140.2 246.1,120.0 246.6,106.8 246.8,109.3 247.5,133.4 248.2,143.7 248.9,144.6 249.6,142.9 250.3,145.5 251.0,144.6 251.7,144.3 252.4,146.4 253.1,144.7 253.8,144.0 254.5,144.6 255.2,145.1 255.9,145.3 256.6,144.6 257.3,144.0 258.0,144.1 258.7,144.0 259.4,143.8 260.1,144.7 260.8,144.0 261.5,142.9 262.2,140.3 262.9,142.1 263.6,144.3 264.3,144.5 265.0,145.7 265.7,144.0 266.4,144.9 267.1,144.7 267.8,143.6 268.5,143.5 269.2,133.2 269.7,125.3 269.9,128.7 270.6,140.8 271.3,143.8 272.0,146.2 272.7,145.0 273.4,143.9 274.1,145.3 274.8,144.4 275.5,141.6 276.2,138.2 276.9,143.0 277.6,144.1 278.3,145.5 279.0,145.3 279.7,144.6 280.4,144.6 281.1,146.5 281.8,146.4 282.5,145.5 283.2,143.1 283.9,136.4 284.4,133.7 284.6,136.0 285.3,141.8 286.0,144.4 286.7,144.1 287.4,145.3 288.1,144.4 288.8,145.2 289.5,145.8 290.2,146.1 290.9,145.3 291.6,144.9 292.3,145.3 293.0,145.8 293.7,139.5 294.4,132.4 295.1,140.5 295.8,144.5 296.5,148.0 297.2,144.9 297.9,145.2 298.6,145.1 299.3,145.6 300.0,144.9 300.7,144.0 301.4,142.4 302.1,140.5 302.4,139.6 302.8,140.6 303.5,146.0 304.2,145.9 304.9,146.3 305.6,145.0 306.3,145.7 307.0,145.2 307.7,145.3 308.4,146.0 309.1,145.9 309.8,145.7 310.5,145.6 311.2,144.3 311.9,144.8 312.6,145.7 313.3,144.9 314.0,142.7 314.7,139.9 314.8,138.8 315.4,141.6 316.1,145.8 316.8,145.1 317.5,146.6 318.2,145.9 318.9,146.2 319.6,146.4 320.3,143.8 321.0,145.4 321.7,144.5 322.4,145.1 323.1,145.4 323.8,146.5 324.5,145.5 325.2,146.9 325.9,145.1 326.6,145.5 327.3,145.6 328.0,146.3 328.7,145.5 329.4,145.1 330.1,145.3 330.8,144.4 331.5,146.6 332.2,146.2 332.9,145.9 333.6,145.8 334.3,145.1 335.0,145.3 335.7,146.3 336.4,145.0 337.1,145.0 337.8,146.9 338.5,146.9 339.2,145.8 339.9,146.0 340.6,145.7 341.3,146.7 342.0,145.1 342.7,144.5 343.4,139.5 344.0,136.2 344.1,134.9 344.8,141.4 345.5,144.6 346.2,145.0 346.9,145.1 347.6,145.7 348.3,146.4 349.0,145.1 349.7,145.2 350.4,145.3 351.1,146.0 351.8,146.2 352.5,144.6 353.2,145.5 353.9,142.3 354.5,142.1 354.6,140.8 355.3,143.1 356.0,144.9 356.7,145.6 357.4,144.9 358.1,145.9 358.8,145.9 359.5,145.8 360.2,146.0 360.9,146.5 361.6,145.2 362.3,145.8 363.0,145.7 363.7,144.1 364.4,146.1 365.1,145.1 365.8,145.2 366.5,145.1 367.2,143.6 367.9,140.8 368.0,140.9 368.6,142.0 369.3,145.8 370.0,146.1 370.7,145.5 371.4,145.8 372.1,146.4 372.8,146.1 373.5,146.3 374.2,145.4 374.9,144.1 375.5,143.3 375.6,141.9 376.3,142.7 377.0,147.0 377.7,145.4 378.4,144.7 379.1,143.9 379.8,146.2 380.5,146.7 381.2,146.7 381.9,145.6 382.6,147.0 383.3,145.8 384.0,145.4 384.7,145.9 385.4,145.7 386.1,143.4 386.8,139.1 387.1,136.2 387.5,140.6 388.2,143.4 388.9,146.1 389.6,145.2 390.3,146.0 391.0,145.8 391.7,144.7 392.4,146.2 393.1,146.4 393.8,145.1 394.5,144.3 395.2,145.4 395.9,145.3 396.6,146.1 397.3,146.0 398.0,147.3 398.7,146.5 399.4,145.8 400.1,146.1 400.8,143.7 401.5,145.3 402.2,145.3 402.9,145.9 403.6,146.2 404.3,146.1 405.0,145.7 405.7,140.5 406.2,139.2 406.4,139.3 407.1,143.7 407.8,146.0 408.5,145.8 409.2,146.2 409.9,146.0 410.6,146.9 411.3,146.0 412.0,146.3 412.7,148.2 413.4,146.6 414.1,146.5 414.8,146.9 415.5,144.6 416.2,140.4 416.9,132.6 417.6,140.2 418.3,146.2 419.0,146.7 419.7,147.1 420.4,145.6 421.1,146.5 421.8,145.6 422.5,146.4 423.2,139.5 423.9,130.0 424.6,139.5 425.3,144.7 426.0,146.9 426.7,145.9 427.4,144.5 428.1,146.0 428.8,147.1 429.5,146.5 430.2,145.8 430.9,146.8 431.6,146.5 432.3,144.6 433.0,134.7 433.3,132.3 433.7,134.8 434.4,144.5 435.1,146.4 435.8,146.3 436.5,146.7 437.2,145.4 437.9,146.8 438.6,146.1 439.3,143.4 440.0,132.2 440.3,129.8 440.7,134.1 441.4,144.6 442.1,146.0 442.8,146.7 443.5,145.8 444.2,146.8 444.9,146.5 445.6,145.5 446.3,147.4 447.0,145.8 447.7,146.6 448.4,145.5 449.1,145.1 449.8,146.9 450.5,144.0 451.2,141.4 451.3,142.8 451.9,143.2 452.6,146.0 453.3,148.0 454.0,146.1 454.7,145.9 455.4,142.4 455.9,140.2 456.1,140.3 456.8,145.6 457.5,146.2 458.2,146.8 458.9,146.7 459.6,145.6 460.3,146.8 461.0,146.6 461.7,146.9 462.4,145.2 463.1,138.6 463.6,132.0 463.8,133.8 464.5,141.8 465.2,145.4 465.9,146.9 466.6,146.5 467.3,146.7 468.0,145.1 468.7,144.4 469.4,143.0 469.5,142.6 470.1,144.0 470.8,146.2 471.5,146.4 472.2,145.8 472.9,148.0 473.6,146.2 474.3,147.2 475.0,147.2 475.7,147.5 476.4,146.3 477.1,145.9 477.8,147.1 478.5,146.9 479.2,144.9 479.9,144.7 480.6,146.3 481.3,146.4 482.0,146.5 482.7,147.0 483.4,145.7 484.1,147.9 484.8,145.8 485.0,146.0 485.5,145.5 486.2,144.5 486.9,146.8 487.6,146.3 488.3,147.1 489.0,146.7 489.7,147.3 490.4,146.1 491.1,146.5 491.8,146.8 492.5,146.2 493.2,146.5 493.9,147.3 494.6,148.3 495.3,146.7 496.0,147.5 496.7,145.9 497.4,146.5 498.1,147.1 498.8,147.3 499.5,146.0 500.2,147.3 500.9,147.0 501.6,147.9 502.3,147.6 503.0,147.3 503.7,146.6 504.4,147.1 505.1,146.2 505.8,146.2 506.5,145.4 507.2,145.9 507.9,145.9 508.6,146.8 509.3,147.0 510.0,145.8 510.7,146.8 511.4,147.2 512.1,147.6 512.8,146.8 513.5,147.1 514.2,146.6 514.9,147.6 515.6,145.7 516.3,147.1 517.0,145.1 517.7,148.3 518.4,147.7 519.1,145.3 519.8,146.5 520.5,145.8 521.2,145.6 521.9,146.6 522.6,146.3 523.3,147.8 524.0,146.5 524.7,146.1 525.4,146.9 526.1,147.3 526.8,147.6 527.5,147.4 528.2,145.8 528.9,146.3 529.6,146.8 530.3,146.3 531.0,147.5 531.7,146.5 532.4,145.5 533.1,143.1 533.4,143.0 533.8,142.4 534.5,147.5 535.2,146.4 535.9,146.4 536.6,145.6 537.3,146.9 538.0,145.9 538.7,147.2 539.4,147.8 540.1,146.4 540.8,144.2 541.0,145.5 541.5,144.9 542.2,146.4 542.9,147.0 543.6,146.7 544.3,147.4 545.0,146.1 545.7,145.7 546.4,148.0 547.1,146.5 547.8,146.8 548.5,147.3 549.2,146.7 549.9,146.2 550.6,146.9 551.3,146.3 552.0,147.5 552.7,146.7 553.4,146.9 554.1,147.7 554.8,145.9 555.5,145.9 556.2,147.7 556.9,148.1 557.6,147.2 558.3,146.5 559.0,148.1 559.7,147.5 560.4,147.9 561.1,145.7 561.8,147.0 562.5,146.3 563.2,146.2 563.9,147.6 564.6,147.7 565.3,146.7 566.0,146.9 566.7,148.2 567.4,147.6 568.1,147.0 568.8,147.5 569.5,147.2 570.2,146.1 570.9,146.7 571.6,147.2 572.3,146.6 573.0,142.6 573.5,141.9 573.7,142.2 574.4,144.0 575.1,147.6 575.8,147.4 576.5,148.1 577.2,145.4 577.9,146.5 578.6,148.6 579.3,146.0 580.0,145.7 580.7,147.3 581.4,148.4 582.1,147.7 582.8,146.4 583.5,147.6 584.2,147.5 584.9,147.4 585.6,147.5 586.3,147.8 587.0,148.1 587.7,148.2 588.4,148.0 589.1,147.0 589.8,145.7 590.5,147.6 591.2,146.0 591.9,149.0 592.6,146.3 593.3,145.7 594.0,145.7 594.7,147.5 595.4,147.4 596.1,147.7 596.8,147.4 597.5,146.6 598.2,147.8 598.9,146.6 599.6,146.0 600.3,147.9 601.0,147.6 601.7,146.5 602.4,147.0 603.1,148.0 603.8,148.0 604.5,146.4 605.2,148.1 605.9,145.2 606.6,147.3 607.3,147.6 608.0,147.2 608.7,147.4 609.4,146.0 610.1,147.2 610.8,147.7 611.5,146.6 612.2,147.4 612.9,147.2 613.6,145.5 614.3,146.8 615.0,147.8 615.7,146.1 616.4,147.4 617.1,147.6 617.8,146.3 618.5,147.2 619.2,148.1 619.9,147.9 620.6,146.6 621.3,148.2 622.0,147.7 622.7,147.5 623.4,148.6 624.1,148.0 624.8,147.7 625.5,148.2 626.2,148.0 626.9,148.4 627.6,147.4 628.3,146.1 629.0,148.7 629.7,148.1 630.4,147.9 631.1,147.5 631.8,147.4 632.5,147.6 633.2,146.8 633.9,148.1 634.6,147.6 635.3,146.8 636.0,147.7 636.7,147.3 637.4,147.5 638.1,148.0 638.8,149.7 639.5,146.7 640.2,147.9 640.9,148.1 641.6,147.9 642.3,148.7 643.0,146.9 643.7,146.5 644.3,146.5 644.4,145.4 645.1,147.8 645.8,146.4 646.5,148.0 647.2,148.6 647.9,147.0 648.6,147.5 649.3,147.5 650.0,149.0 650.7,147.9 651.4,146.3 652.1,148.5 652.8,148.5 653.5,146.1 654.2,145.5 654.9,149.8 655.6,147.8 656.3,146.0 657.0,148.6 657.7,148.9 658.4,145.8 659.1,148.8 659.8,148.3 660.5,147.7 661.2,147.2 661.9,148.1 662.6,147.1 663.3,147.9 664.0,147.6" fill="none" stroke="#0000ff" stroke-width="3.2" stroke-linejoin="round"/>
<path d="M134.8,837.8 V732.9 M174.6,837.8 V688.1 M198.1,837.8 V805.2 M214.3,837.8 V805.2 M239.9,837.8 V805.2 M253.8,837.8 V673.1 M283.1,837.8 V761.4 M324.7,837.8 V799.4 M396.5,837.8 V822.6 M408.0,837.8 V761.4 M429.2,837.8 V821.1 M443.0,837.8 V819.0 M469.0,837.8 V829.4 M486.0,837.8 V823.6 M554.9,837.8 V827.5 " fill="none" stroke="#f00" stroke-width="4.3"/><circle cx="134.8" cy="732.95" r="2.15" fill="#f00"/><circle cx="174.6" cy="688.15" r="2.15" fill="#f00"/><circle cx="198.1" cy="805.25" r="2.15" fill="#f00"/><circle cx="214.3" cy="805.25" r="2.15" fill="#f00"/><circle cx="239.9" cy="805.25" r="2.15" fill="#f00"/><circle cx="253.8" cy="673.15" r="2.15" fill="#f00"/><circle cx="283.1" cy="761.35" r="2.15" fill="#f00"/><circle cx="324.7" cy="799.35" r="2.15" fill="#f00"/><circle cx="396.5" cy="822.65" r="2.15" fill="#f00"/><circle cx="408.0" cy="761.35" r="2.15" fill="#f00"/><circle cx="429.2" cy="821.15" r="2.15" fill="#f00"/><circle cx="443.0" cy="819.05" r="2.15" fill="#f00"/><circle cx="469.0" cy="829.35" r="2.15" fill="#f00"/><circle cx="486.0" cy="823.65" r="2.15" fill="#f00"/><circle cx="554.9" cy="827.55" r="2.15" fill="#f00"/>
<text transform="translate(76.55,61.32) scale(0.3218,0.3096)" font-size="100" font-weight="bold" fill="#000">(e)</text>
<text transform="translate(71.97,218.32) scale(0.3181,0.3096)" font-size="100" font-weight="bold" fill="#000">(d)</text>
<text transform="translate(71.97,388.72) scale(0.3178,0.3096)" font-size="100" font-weight="bold" fill="#000">(c)</text>
<text transform="translate(70.90,558.29) scale(0.3119,0.3063)" font-size="100" font-weight="bold" fill="#000">(b)</text>
<text transform="translate(71.97,700.99) scale(0.3183,0.3063)" font-size="100" font-weight="bold" fill="#000">(a)</text>
<text transform="translate(211.63,64.97) scale(0.3371,0.3277)" font-size="100" font-weight="bold" fill="#0000ff">S/MCG/Bi</text>
<text transform="translate(362.52,76.50) scale(0.3494,0.3336)" font-size="100" font-weight="bold" fill="#0000ff">2</text>
<text transform="translate(379.71,65.17) scale(0.3413,0.3301)" font-size="100" font-weight="bold" fill="#0000ff">S</text>
<text transform="translate(398.37,76.76) scale(0.3275,0.3375)" font-size="100" font-weight="bold" fill="#0000ff">3</text>
<text transform="translate(430.37,65.63) scale(0.2951,0.2670)" font-size="100" font-weight="bold" fill="#0000ff">(3D) Nano flower</text>
<text transform="translate(498.72,228.07) scale(0.3303,0.3316)" font-size="100" font-weight="bold" fill="#000">MCG</text>
<text transform="translate(450.54,404.26) scale(0.3348,0.3375)" font-size="100" font-weight="bold" fill="#808000">SULFUR</text>
<text transform="translate(305.56,526.22) scale(0.3079,0.3082)" font-size="100" font-weight="bold" fill="#008000">Bi</text>
<text transform="translate(334.37,540.00) scale(0.3590,0.3170)" font-size="100" font-weight="bold" fill="#008000">2</text>
<text transform="translate(351.60,526.58) scale(0.3435,0.3182)" font-size="100" font-weight="bold" fill="#008000">S</text>
<text transform="translate(370.57,540.57) scale(0.3275,0.3301)" font-size="100" font-weight="bold" fill="#008000">3</text>
<text transform="translate(395.29,526.92) scale(0.3358,0.3237)" font-size="100" font-weight="bold" fill="#008000">(3D) Nano flower</text>
<text transform="translate(333.09,700.98) scale(0.3357,0.3483)" font-size="100" font-weight="bold" fill="#f00">JCPDS NO: 65-2431</text>
<text transform="translate(45.69,889.26) scale(0.3513,0.3437)" font-size="100" font-weight="bold" fill="#000">10</text>
<text transform="translate(88.77,889.25) scale(0.3513,0.3463)" font-size="100" font-weight="bold" fill="#000">15</text>
<text transform="translate(133.24,889.26) scale(0.3370,0.3437)" font-size="100" font-weight="bold" fill="#000">20</text>
<text transform="translate(176.32,889.26) scale(0.3370,0.3450)" font-size="100" font-weight="bold" fill="#000">25</text>
<text transform="translate(219.58,889.26) scale(0.3351,0.3437)" font-size="100" font-weight="bold" fill="#000">30</text>
<text transform="translate(262.67,889.26) scale(0.3351,0.3450)" font-size="100" font-weight="bold" fill="#000">35</text>
<text transform="translate(306.60,889.26) scale(0.3263,0.3437)" font-size="100" font-weight="bold" fill="#000">40</text>
<text transform="translate(349.69,889.25) scale(0.3263,0.3476)" font-size="100" font-weight="bold" fill="#000">45</text>
<text transform="translate(391.84,889.26) scale(0.3360,0.3437)" font-size="100" font-weight="bold" fill="#000">50</text>
<text transform="translate(434.92,889.25) scale(0.3360,0.3489)" font-size="100" font-weight="bold" fill="#000">55</text>
<text transform="translate(478.18,889.26) scale(0.3342,0.3437)" font-size="100" font-weight="bold" fill="#000">60</text>
<text transform="translate(521.27,889.26) scale(0.3342,0.3450)" font-size="100" font-weight="bold" fill="#000">65</text>
<text transform="translate(563.55,889.26) scale(0.3425,0.3437)" font-size="100" font-weight="bold" fill="#000">70</text>
<text transform="translate(606.64,889.25) scale(0.3425,0.3489)" font-size="100" font-weight="bold" fill="#000">75</text>
<text transform="translate(650.61,889.26) scale(0.3333,0.3437)" font-size="100" font-weight="bold" fill="#000">80</text>
<text transform="translate(285.43,933.99) scale(0.4370,0.4070)" font-size="100" font-weight="normal" fill="#000">2θ</text>
<text transform="translate(338.41,934.14) scale(0.4422,0.4120)" font-size="100" font-weight="bold" fill="#000">(degree)</text>
<text transform="translate(31.06,531.54) rotate(-90) scale(0.4418,0.4297)" font-size="100" font-weight="bold" fill="#000">Intensity (a.u.)</text></svg>
</body></html>
